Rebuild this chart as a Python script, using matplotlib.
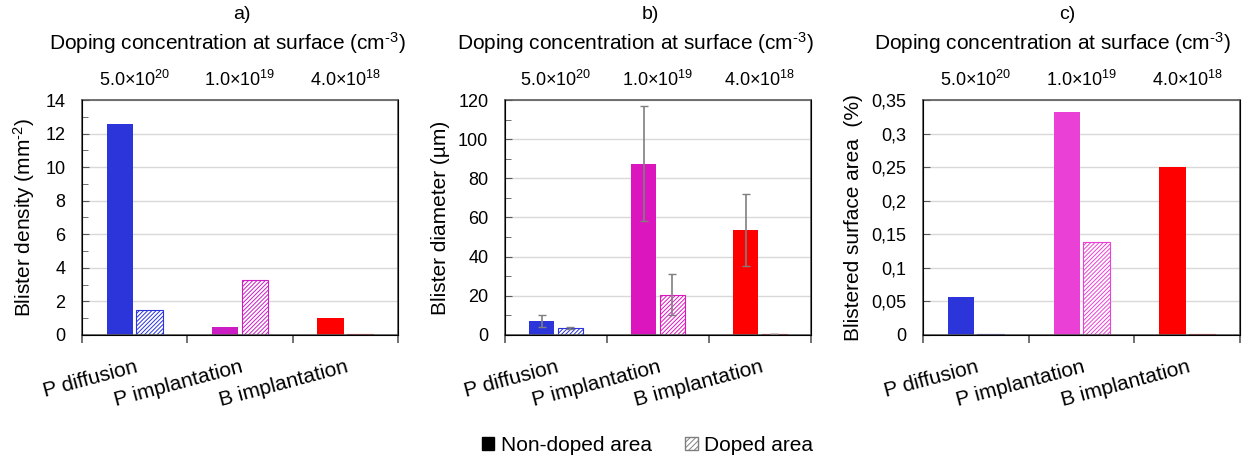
import matplotlib
matplotlib.use("Agg")
import matplotlib.pyplot as plt
import numpy as np
from matplotlib.patches import Patch
from matplotlib.ticker import FuncFormatter, MultipleLocator

plt.rcParams['font.family'] = ['Liberation Sans', 'DejaVu Sans']
plt.rcParams['mathtext.fontset'] = 'custom'
plt.rcParams['mathtext.rm'] = 'Liberation Sans'
plt.rcParams['mathtext.it'] = 'Liberation Sans:italic'
plt.rcParams['hatch.linewidth'] = 0.7

# data
categories = ['P diffusion', 'P implantation', 'B implantation']
concentrations = [r'5.0×10$^{20}$', r'1.0×10$^{19}$', r'4.0×10$^{18}$']

density_nondoped = [12.55, 0.5, 1.0]
density_doped = [1.5, 3.25, 0.05]

diameter_nondoped = [7.0, 87.5, 53.5]
diameter_doped = [3.5, 20.5, 0.3]
diameter_nondoped_err = [3.0, 29.5, 18.5]
diameter_doped_err = [0.5, 10.5, 0.0]

area_nondoped = [0.057, 0.332, 0.25]
area_doped = [0.002, 0.138, 0.001]

colors_a = ['#2B35DA', '#CC1CC4', '#FF0000']
colors_b = ['#2B35DA', '#DC16BF', '#FF0000']
colors_c = ['#2B35DA', '#EA40D6', '#FF0000']

fig = plt.figure(figsize=(12.45, 4.59), dpi=100)

# title_x / letter_x: horizontal centre of the header texts in axes fraction
panels = [
    dict(pos=[0.0659, 0.2702, 0.2538, 0.5119], nd=density_nondoped, d=density_doped,
         nd_err=None, d_err=None, colors=colors_a, ylim=14, major=2, minor=1,
         ylabel='Blister density (mm$^{\u20102}$)', title='a)', comma=False,
         title_x=0.459, letter_x=0.506),
    dict(pos=[0.4056, 0.2702, 0.2458, 0.5119], nd=diameter_nondoped, d=diameter_doped,
         nd_err=diameter_nondoped_err, d_err=diameter_doped_err, colors=colors_b,
         ylim=120, major=20, minor=10,
         ylabel='Blister diameter (µm)', title='b)', comma=False,
         title_x=0.425, letter_x=0.474),
    dict(pos=[0.7414, 0.2702, 0.2546, 0.5119], nd=area_nondoped, d=area_doped,
         nd_err=None, d_err=None, colors=colors_c, ylim=0.35, major=0.05, minor=None,
         ylabel='Blistered surface area  (%)', title='c)', comma=True,
         title_x=0.407, letter_x=0.454),
]

x = np.arange(len(categories))
w = 0.25
off = 0.14
spine_col = '#595959'

for p in panels:
    ax = fig.add_axes(p['pos'])
    ax.bar(x - off, p['nd'], w, color=p['colors'], zorder=2)
    ax.bar(x + off, p['d'], w, color='white', edgecolor=p['colors'], hatch='////////',
           linewidth=0.8, zorder=2)
    if p['nd_err'] is not None:
        ax.errorbar(x - off, p['nd'], yerr=p['nd_err'], fmt='none', ecolor='#7F7F7F',
                    elinewidth=1.2, capsize=3, zorder=3)
        ax.errorbar(x + off, p['d'], yerr=p['d_err'], fmt='none', ecolor='#7F7F7F',
                    elinewidth=1.2, capsize=3, zorder=3)

    ax.set_xlim(-0.5, 2.5)
    ax.set_ylim(0, p['ylim'])
    ax.yaxis.set_major_locator(MultipleLocator(p['major']))
    if p['minor']:
        ax.yaxis.set_minor_locator(MultipleLocator(p['minor']))
    if p['comma']:
        ax.yaxis.set_major_formatter(FuncFormatter(
            lambda v, pos: ('%g' % round(v, 4)).replace('.', ',')))
    ax.grid(axis='y', color='#D9D9D9', linewidth=1.0, zorder=0)
    ax.set_axisbelow(True)
    for s in ax.spines.values():
        s.set_color(spine_col)
        s.set_linewidth(1.2)
    ax.tick_params(axis='y', which='both', direction='in', colors=spine_col,
                   labelcolor='black', labelsize=13, pad=12)
    ax.tick_params(axis='y', which='major', length=5)
    ax.tick_params(axis='y', which='minor', length=4)
    ax.set_ylabel(p['ylabel'], fontsize=15, labelpad=6)

    # category boundaries as ticks, names at centres
    ax.set_xticks([-0.5, 0.5, 1.5, 2.5])
    ax.set_xticklabels([])
    ax.tick_params(axis='x', which='major', direction='out', length=6,
                   colors=spine_col, width=1.2)
    ax.set_xticks(x, minor=True)
    ax.set_xticklabels(categories, minor=True, rotation=15, ha='right',
                       va='top', rotation_mode='anchor', fontsize=15)
    ax.tick_params(axis='x', which='minor', length=0, pad=16)

    top = ax.twiny()
    top.set_xlim(ax.get_xlim())
    top.set_xticks(x)
    top.set_xticklabels(concentrations, fontsize=13)
    top.tick_params(axis='x', length=0, pad=7)
    top.spines['top'].set_visible(False)
    ax.text(p['title_x'], 1.243, 'Doping concentration at surface (cm$^{\u20103}$)',
            transform=ax.transAxes, ha='center', va='center', fontsize=15)
    ax.text(p['letter_x'], 1.362, p['title'], transform=ax.transAxes,
            ha='center', va='center', fontsize=14)

handles = [Patch(facecolor='black', edgecolor='black'),
           Patch(facecolor='white', edgecolor='#7F7F7F', hatch='//////')]
fig.legend(handles, ['Non-doped area', 'Doped area'], loc='center',
           bbox_to_anchor=(0.52, 0.0305), ncol=2, frameon=False, fontsize=15,
           handlelength=0.6, handleheight=0.6, handletextpad=0.3, columnspacing=1.6)

fig.savefig('out.png', dpi=100)
